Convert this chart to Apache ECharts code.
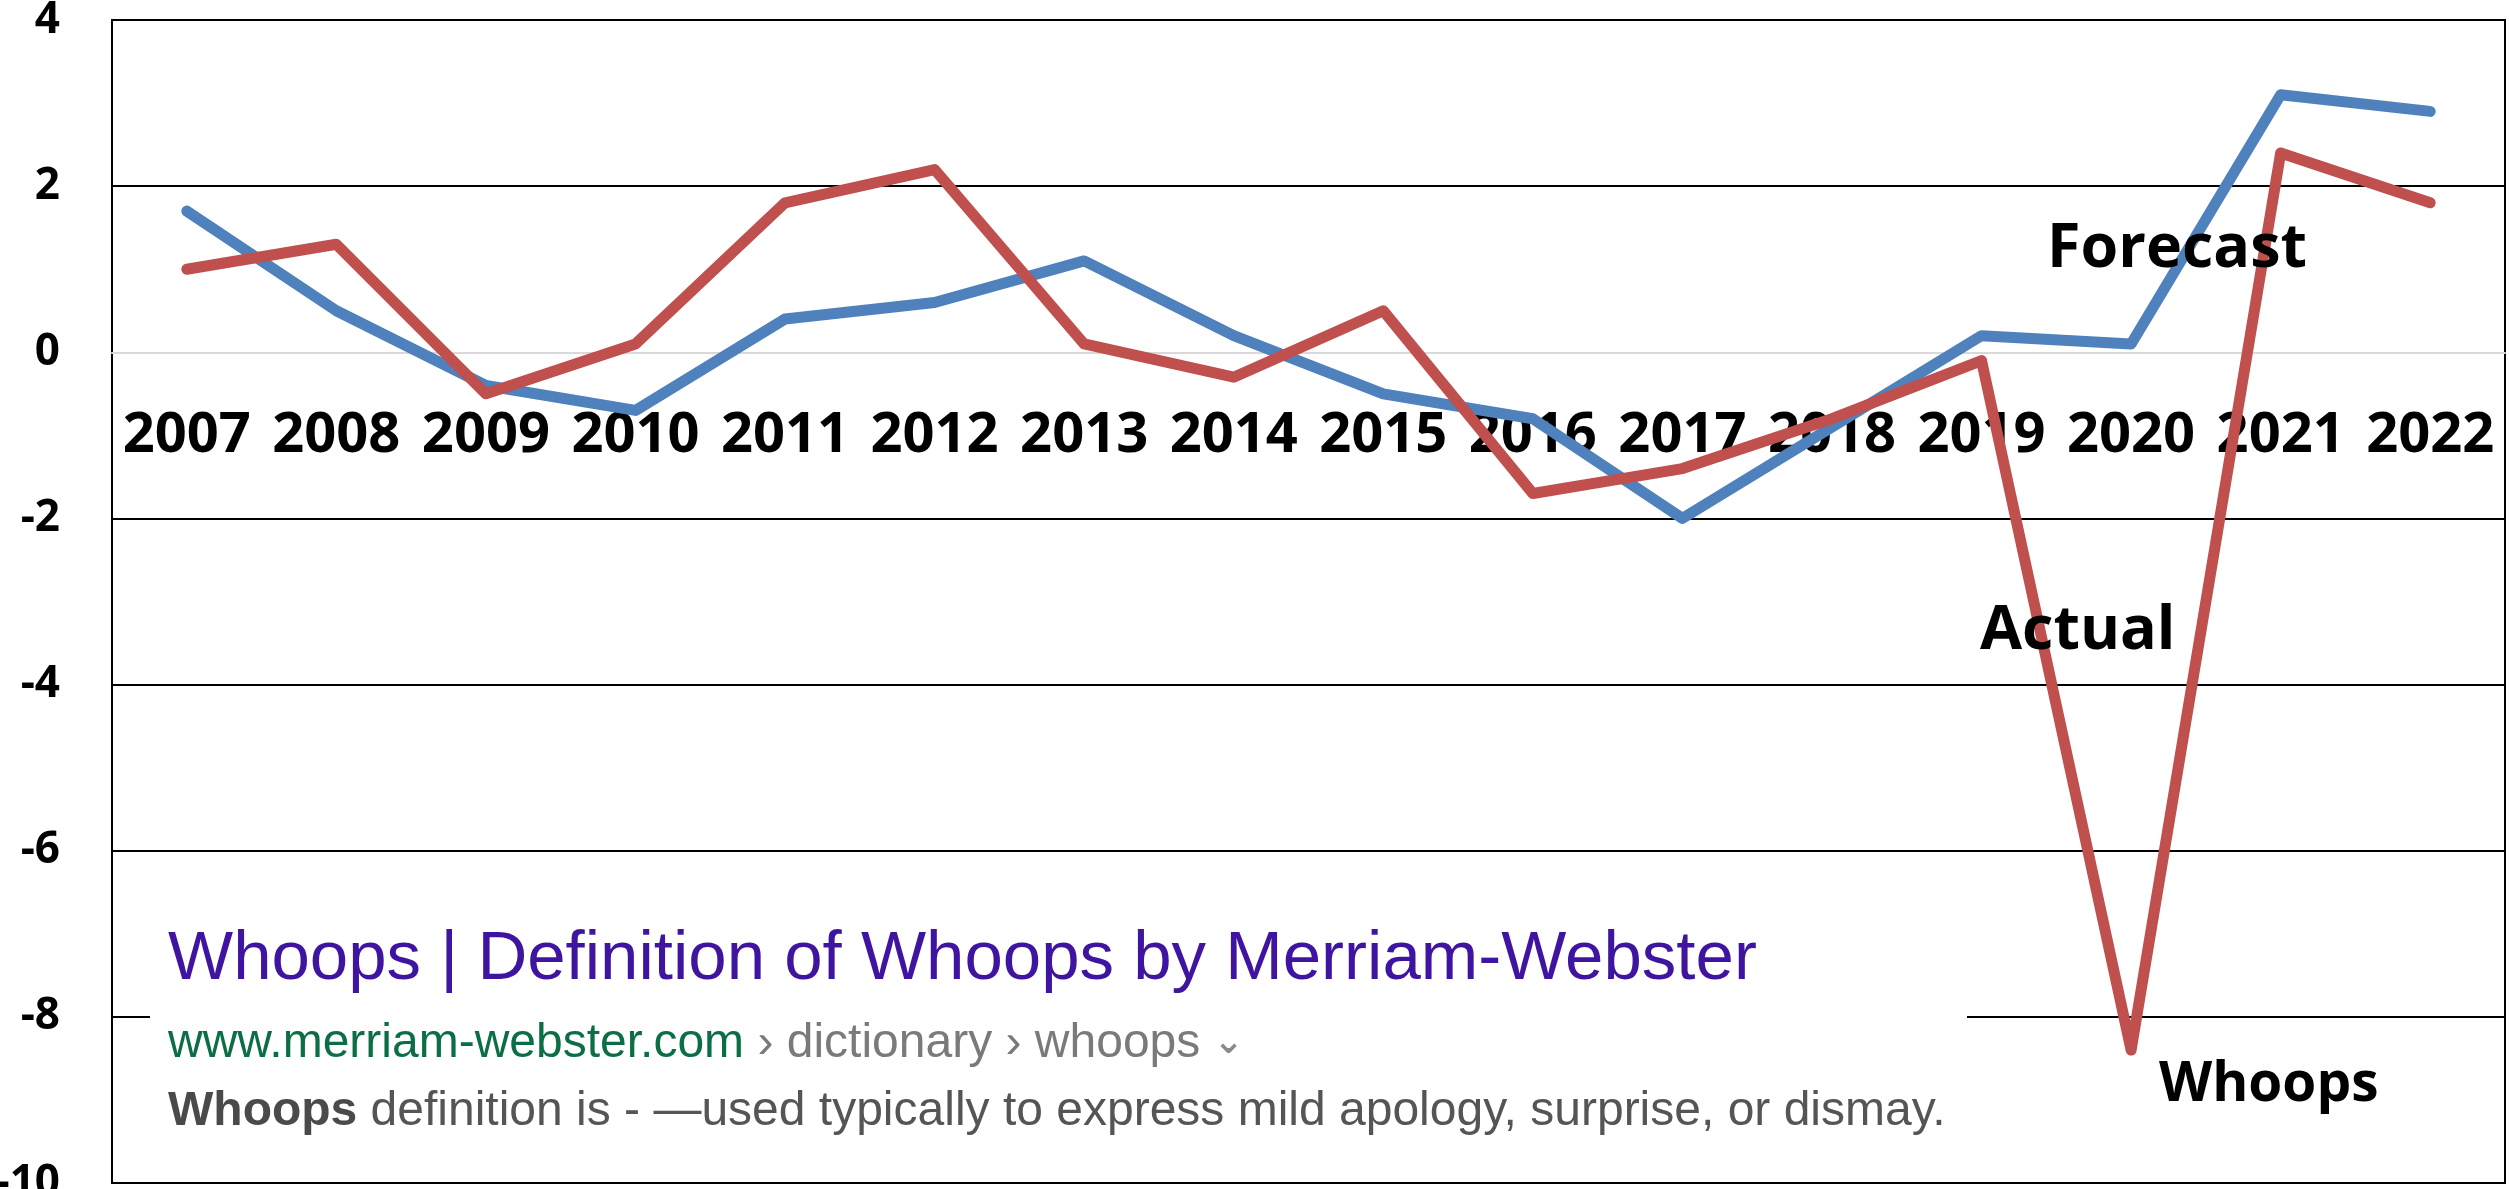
<!DOCTYPE html>
<html>
<head>
<meta charset="utf-8">
<script src="https://cdn.jsdelivr.net/npm/echarts@6/dist/echarts.min.js"></script>
<style>
  html, body { margin: 0; padding: 0; background: #fff; }
  #chart { width: 2509px; height: 1189px; }
</style>
</head>
<body>
<div id="chart"></div>
<script>
// 数据
const years = ["2007", "2008", "2009", "2010", "2011", "2012", "2013", "2014",
  "2015", "2016", "2017", "2018", "2019", "2020", "2021", "2022"];
const forecast = [1.7, 0.5, -0.4, -0.7, 0.4, 0.6, 1.1, 0.2, -0.5, -0.8, -2.0, -0.9, 0.2, 0.1, 3.1, 2.9];
const actual = [1.0, 1.3, -0.5, 0.1, 1.8, 2.2, 0.1, -0.3, 0.5, -1.7, -1.4, -0.8, -0.1, -8.4, 2.4, 1.8];
const yTicks = { min: -10, max: 4, interval: 2 };

const boldFont = "'Open Sans', 'Liberation Sans', sans-serif";
const arial = "'Liberation Sans', Arial, sans-serif";

const W = 2509, H = 1189;
const gridBox = { left: 112, top: 20, right: 4, bottom: 6 };
const plotH = H - gridBox.top - gridBox.bottom;
// 类目轴放在 0 刻度处（向上偏移）
const zeroOffset = -plotH * (0 - yTicks.min) / (yTicks.max - yTicks.min);

var myChart = echarts.init(document.getElementById("chart"));

// splitLine 颜色: 0 轴用浅灰，其余黑色
var splitColors = [];
for (var v = yTicks.min; v <= yTicks.max; v += yTicks.interval) {
  splitColors.push(v === 0 ? "#d9d9d9" : "#000");
}

var option = {
  backgroundColor: "#fff",
  animation: false,
  grid: {
    left: gridBox.left,
    top: gridBox.top,
    right: gridBox.right,
    bottom: gridBox.bottom,
    containLabel: false,
    outerBoundsMode: "none",
    show: true,
    borderColor: "#000",
    borderWidth: 2,
  },
  xAxis: {
    type: "category",
    data: years,
    boundaryGap: true,
    position: "bottom",
    offset: zeroOffset,
    axisLine: { show: true, onZero: false, lineStyle: { color: "#d9d9d9", width: 2 } },
    axisTick: { show: false },
    axisLabel: {
      interval: 0,
      margin: 56,
      color: "#000",
      fontFamily: boldFont,
      fontWeight: "bold",
      fontSize: 56,
      hideOverlap: false,
    },
  },
  yAxis: {
    type: "value",
    min: yTicks.min,
    max: yTicks.max,
    interval: yTicks.interval,
    axisLine: { show: false },
    axisTick: { show: false },
    axisLabel: {
      margin: 52,
      color: "#000",
      fontFamily: boldFont,
      fontWeight: "bold",
      fontSize: 44,
    },
    splitLine: {
      show: true,
      showMinLine: true,
      showMaxLine: true,
      lineStyle: { color: splitColors, width: 2 },
    },
  },
  series: [
    {
      name: "Forecast",
      type: "line",
      data: forecast,
      showSymbol: false,
      lineStyle: { color: "#4F81BD", width: 11, cap: "round", join: "round" },
      z: 3,
    },
    {
      name: "Actual",
      type: "line",
      data: actual,
      showSymbol: false,
      lineStyle: { color: "#C0504D", width: 11, cap: "round", join: "round" },
      z: 4,
    },
  ],
  graphic: [
    // 标注文字
    {
      type: "text", left: 2047, top: 219, z: 50,
      style: { text: "Forecast", fill: "#000", font: "bold 61px " + boldFont },
    },
    {
      type: "text", left: 1980, top: 601, z: 50,
      style: { text: "Actual", fill: "#000", font: "bold 61px " + boldFont },
    },
    {
      type: "text", left: 2159, top: 1058, z: 50,
      style: { text: "Whoops", fill: "#000", font: "bold 55px " + boldFont },
    },
    // 搜索结果截图
    {
      type: "rect", z: 60,
      shape: { x: 150, y: 880, width: 1817, height: 292 },
      style: { fill: "#fff" },
    },
    {
      type: "text", left: 168, top: 925, z: 61,
      style: { text: "Whoops | Definition of Whoops by Merriam-Webster", fill: "#3f14a0", font: "69px " + arial },
    },
    {
      type: "text", left: 168, top: 1020, z: 61,
      style: {
        text: "{g|www.merriam-webster.com}{s| › dictionary › whoops }{c|⌄}",
        rich: {
          g: { fill: "#0b6e45", font: "48px " + arial },
          s: { fill: "#7a7a7a", font: "48px " + arial },
          c: { fill: "#8a8a8a", font: "bold 36px 'DejaVu Sans', sans-serif" },
        },
      },
    },
    {
      type: "text", left: 168, top: 1088, z: 61,
      style: {
        text: "{b|Whoops}{n| definition is - —used typically to express mild apology, surprise, or dismay.}",
        rich: {
          b: { fill: "#4a4a4a", font: "bold 48px " + arial },
          n: { fill: "#555555", font: "48px " + arial },
        },
      },
    },
  ],
};

myChart.setOption(option);
</script>
</body>
</html>
